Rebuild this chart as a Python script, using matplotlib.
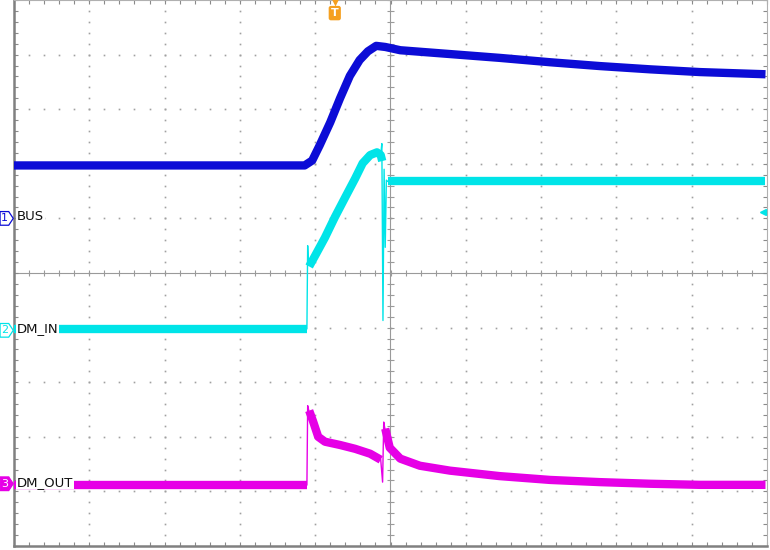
import numpy as np
import matplotlib
matplotlib.use("Agg")
import matplotlib.pyplot as plt
from matplotlib.patches import Polygon

# all values in screen divisions (10 x 10 graticule, centre = 0)
bus_t = [-5.0, -1.14, -1.04, -0.94, -0.80, -0.67, -0.54, -0.41, -0.30, -0.19, -0.07,
         0.13, 0.79, 1.45, 2.12, 2.78, 3.45, 4.11, 4.98]
bus_v = [1.97, 1.97, 2.06, 2.34, 2.76, 3.20, 3.61, 3.90, 4.06, 4.16, 4.14,
         4.08, 4.01, 3.94, 3.86, 3.79, 3.73, 3.68, 3.64]

dmin_flat_t = [-5.0, -1.11]
dmin_flat_v = [-1.02, -1.02]
dmin_hump_t = [-1.08, -1.00, -0.87, -0.74, -0.60, -0.47, -0.37, -0.27, -0.18, -0.13, -0.11]
dmin_hump_v = [0.12, 0.32, 0.65, 1.02, 1.39, 1.73, 2.01, 2.16, 2.21, 2.16, 2.05]
dmin_settle_t = [-0.03, 4.98]
dmin_settle_v = [1.68, 1.68]
dmin_rise_t = [-1.11, -1.10, -1.09]
dmin_rise_v = [-1.02, 0.50, 0.14]
dmin_fall_t = [-0.13, -0.115, -0.10, -0.085, -0.07, -0.055, -0.04]
dmin_fall_v = [2.16, 2.37, -0.87, 1.90, 0.47, 1.70, 1.68]

dmout_flat_t = [-5.0, -1.11]
dmout_flat_v = [-3.88, -3.88]
dmout_a_t = [-1.08, -1.03, -0.96, -0.87, -0.67, -0.47, -0.27, -0.13]
dmout_a_v = [-2.52, -2.71, -3.00, -3.09, -3.15, -3.22, -3.31, -3.42]
dmout_b_t = [-0.07, -0.01, 0.13, 0.39, 0.79, 1.45, 2.12, 2.78, 3.45, 4.11, 4.98]
dmout_b_v = [-2.85, -3.20, -3.40, -3.53, -3.62, -3.72, -3.79, -3.83, -3.86, -3.88, -3.88]
dmout_rise_t = [-1.11, -1.10, -1.085]
dmout_rise_v = [-3.88, -2.43, -2.52]
dmout_fall_t = [-0.13, -0.105, -0.09, -0.075]
dmout_fall_v = [-3.42, -3.83, -2.73, -2.85]

ch_names = ["BUS", "DM_IN", "DM_OUT"]
ch_nums = ["1", "2", "3"]
ch_ground = [1.0, -1.05, -3.86]
ch_colors = ["#0c0cd6", "#00e4e8", "#e600e6"]
trig_t = -0.74

fig = plt.figure(figsize=(7.7, 5.5), dpi=100)
ax = fig.add_axes([14 / 770, 4 / 550, 753 / 770, 546 / 550])
ax.set_xlim(-5, 5)
ax.set_ylim(-5, 5)

# graticule
minor = np.arange(-5, 5.001, 0.2)
ax.set_xticks(minor)
ax.set_yticks(minor)
ax.tick_params(direction="in", length=3, width=0.8, color="#8a8a8a",
               top=True, right=True, labelleft=False, labelbottom=False)
for side in ["top", "right"]:
    ax.spines[side].set_color("#b0b0b0")
    ax.spines[side].set_linewidth(0.8)
for side in ["left", "bottom"]:
    ax.spines[side].set_color("#808080")
    ax.spines[side].set_linewidth(1.8)

major = [m for m in range(-4, 5) if m != 0]
gx, gy = np.meshgrid(major, minor)
ax.plot(gx.ravel(), gy.ravel(), "s", ms=1.2, color="#a0a0a0", mec="none", zorder=1)
ax.plot(gy.ravel(), gx.ravel(), "s", ms=1.2, color="#a0a0a0", mec="none", zorder=1)

ax.axhline(0, color="#9a9a9a", lw=0.8, zorder=1)
ax.axvline(0, color="#9a9a9a", lw=0.8, zorder=1)
ax.vlines(minor, -0.06, 0.06, color="#9a9a9a", lw=0.8, zorder=1)
ax.hlines(minor, -0.045, 0.045, color="#9a9a9a", lw=0.8, zorder=1)

# traces
band = dict(lw=6.0, solid_capstyle="butt", solid_joinstyle="round", zorder=3)
thin = dict(lw=1.0, zorder=3)
ax.plot(bus_t, bus_v, color=ch_colors[0], **band)

ax.plot(dmin_flat_t, dmin_flat_v, color=ch_colors[1], **band)
ax.plot(dmin_hump_t, dmin_hump_v, color=ch_colors[1], **band)
ax.plot(dmin_settle_t, dmin_settle_v, color=ch_colors[1], **band)
ax.plot(dmin_rise_t, dmin_rise_v, color=ch_colors[1], **thin)
ax.plot(dmin_fall_t, dmin_fall_v, color=ch_colors[1], **thin)

ax.plot(dmout_flat_t, dmout_flat_v, color=ch_colors[2], **band)
ax.plot(dmout_a_t, dmout_a_v, color=ch_colors[2], **band)
ax.plot(dmout_b_t, dmout_b_v, color=ch_colors[2], **band)
ax.plot(dmout_rise_t, dmout_rise_v, color=ch_colors[2], **thin)
ax.plot(dmout_fall_t, dmout_fall_v, color=ch_colors[2], **thin)

# channel ground markers and labels
for i, (name, num, g, c) in enumerate(zip(ch_names, ch_nums, ch_ground, ch_colors)):
    x0, x1, h = -5.185, -5.01, 0.125
    filled = i == 2
    poly = Polygon([(x0, g - h), (x1 - 0.06, g - h), (x1, g), (x1 - 0.06, g + h), (x0, g + h)],
                   closed=True, facecolor=c if filled else "white", edgecolor=c,
                   lw=0.9, clip_on=False, zorder=6)
    ax.add_patch(poly)
    ax.text((x0 + x1 - 0.05) / 2, g, num, color="white" if filled else c,
            fontsize=8, ha="center", va="center", clip_on=False, zorder=7)
    ax.text(-4.965, g + 0.03, name, color="#111111", fontsize=9.5,
            ha="left", va="center",
            bbox=dict(facecolor="white", edgecolor="none", pad=0.6), zorder=5)

# channel 2 level marker on the right
ax.plot([4.95], [1.11], marker="<", ms=4.5, color=ch_colors[1], zorder=6)

# trigger marker
ax.plot([trig_t], [4.97], marker="v", ms=6, color="#f5a020", mec="none",
        clip_on=False, zorder=6)
ax.text(trig_t, 4.76, "T", color="white", fontsize=8, fontweight="bold",
        ha="center", va="center", zorder=6,
        bbox=dict(boxstyle="round,pad=0.2", facecolor="#f5a020", edgecolor="none"))

fig.savefig("out.png", dpi=100)
